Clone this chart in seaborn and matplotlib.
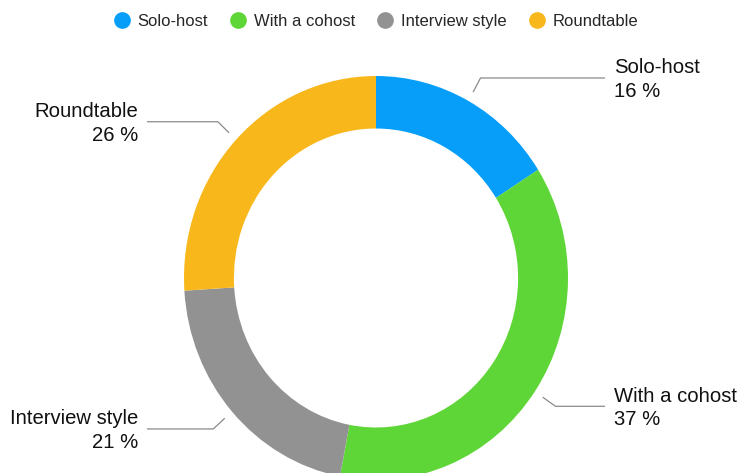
import numpy as np
import matplotlib
matplotlib.use("Agg")
import matplotlib.pyplot as plt
from matplotlib.lines import Line2D
import seaborn as sns

categories = ["Solo-host", "With a cohost", "Interview style", "Roundtable"]
values = [16, 37, 21, 26]
colors = ["#069EF8", "#5FD637", "#929292", "#F8B81B"]

sns.set_theme(style="white")
plt.rcParams["font.family"] = ["Liberation Sans", "DejaVu Sans"]
palette = sns.color_palette(colors)

fig = plt.figure(figsize=(7.4, 4.73), dpi=100)
W, H = 740, 473
cx, cy = 376, 278
rx, ry = 192, 202
ax = fig.add_axes([(cx - rx) / W, (H - cy - ry) / H, 2 * rx / W, 2 * ry / H])

wedges, _ = ax.pie(values, colors=palette, startangle=90, counterclock=False,
                   radius=1.0, wedgeprops=dict(width=0.26, linewidth=0))
ax.set_aspect("auto")
ax.set_xlim(-1, 1)
ax.set_ylim(-1, 1)
ax.axis("off")

total = float(sum(values))
cum = 0.0
for cat, v in zip(categories, values):
    mid = (cum + v / 2) / total * 360.0
    cum += v
    th = np.deg2rad(mid)
    sx, sy = np.sin(th), np.cos(th)
    x0, y0 = 1.05 * sx, 1.05 * sy
    x1, y1 = 1.13 * sx, 1.13 * sy
    side = 1 if sx >= 0 else -1
    x2 = 1.193 * side
    ax.plot([x0, x1, x2], [y0, y1, y1], color="#8a8a8a", lw=0.9,
            clip_on=False, solid_capstyle="butt")
    ax.text(1.24 * side, y1 - 0.008, f"{cat}\n{v} %", ha="left" if side > 0 else "right",
            va="center", multialignment="left" if side > 0 else "right",
            fontsize=14.6, color="#111111", linespacing=1.3, clip_on=False)

handles = [Line2D([0], [0], marker="o", linestyle="", markersize=11,
                  markerfacecolor=c, markeredgecolor=c) for c in palette]
fig.legend(handles, categories, loc="center", bbox_to_anchor=(0.508, 1 - 21 / H),
           ncol=4, frameon=False, fontsize=12, handlelength=1.0,
           handletextpad=0.45, columnspacing=1.3)

fig.savefig("out.png", dpi=100)
